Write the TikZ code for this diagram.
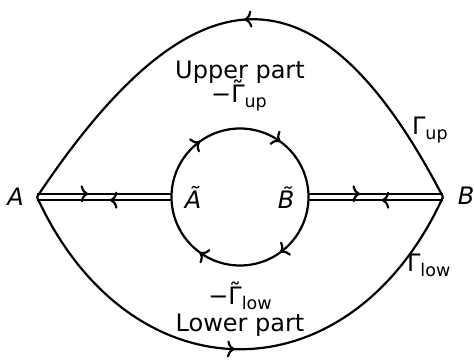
\documentclass[tikz,border=0pt]{standalone}
\usepackage{fontspec}
\setmainfont{DejaVu Sans}
\usetikzlibrary{arrows.meta,decorations.markings}
\newcommand{\lsub}[1]{\raisebox{-5pt}{\fontsize{17.5}{18}\selectfont #1}}
\newcommand{\tGam}{\ooalign{Γ\cr\hidewidth\raisebox{0.17em}{\char"02DC}\hidewidth\cr}}
\begin{document}
\begin{tikzpicture}[x=1pt,y=1pt,
  line width=2.2pt,
  >={Computer Modern Rightarrow[width=17pt,length=7.5pt]},
  markat/.style={postaction={decorate},decoration={markings,mark=at position #1 with {\arrow{>}}}},
  marktwo/.style 2 args={postaction={decorate},decoration={markings,mark=at position #1 with {\arrow{>}},mark=at position #2 with {\arrow{>}}}},
  lbl/.style={font=\fontsize{24}{26}\selectfont, inner sep=0pt, anchor=base}
]
\useasboundingbox (0,0) rectangle (474,361);
\coordinate (A) at (37,164);
\coordinate (B) at (443,164);
\coordinate (At) at (171.5,164);
\coordinate (Bt) at (308.5,164);
\coordinate (Au) at (37,167.2);
\coordinate (Ad) at (37,160.8);
\coordinate (Atu) at (171.57,167.2);
\coordinate (Atd) at (171.57,160.8);
\coordinate (Btu) at (308.43,167.2);
\coordinate (Btd) at (308.43,160.8);
\coordinate (Bu) at (443,167.2);
\coordinate (Bd) at (443,160.8);

% outer contour
\draw[markat=0.5] (B) .. controls (320,401) and (195,401) .. (A);
\draw[markat=0.49] (A) .. controls (130,-39) and (350,-39) .. (B);

% double lines
\draw[markat=0.38] (Au) -- (Atu);
\draw[markat=0.458] (Atd) -- (Ad);
\draw[markat=0.383] (Btu) -- (Bu);
\draw[markat=0.455] (Bd) -- (Btd);

% circle
\draw[marktwo={0.3}{0.7}] (At) arc[start angle=180,end angle=0,radius=68.5];
\draw[marktwo={0.3}{0.7}] (Bt) arc[start angle=0,end angle=-180,radius=68.5];

% labels
\node[lbl] (up) at (240,282) {Upper part};
\node[lbl] (gup) at (239,258) {−\tGam\lsub{up}};
\node[lbl] (low) at (240,29) {Lower part};
\node[lbl] (glow) at (240,56) {−\tGam\lsub{low}};
\node[lbl, anchor=base west] (Gup) at (411,226) {Γ\lsub{up}};
\node[lbl, anchor=base west] (Glow) at (406,89) {Γ\lsub{low}};
\node[lbl] (lA) at (15.5,155) {\itshape A};
\node[lbl] (lB) at (466,156) {\itshape B};
\node[lbl] (lAt) at (193,152) {\itshape Ã};
\node[lbl] (lBt) at (286,152) {\itshape B̃};
\end{tikzpicture}
\end{document}
